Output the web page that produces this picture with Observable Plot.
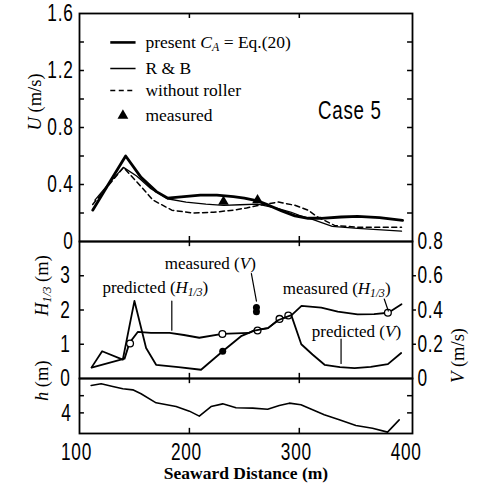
<!DOCTYPE html>
<html>
<head>
<meta charset="utf-8">
<script src="https://cdn.jsdelivr.net/npm/d3@7"></script>
<script src="https://cdn.jsdelivr.net/npm/@observablehq/plot@0.6"></script>
<style>
  body { margin: 0; background: #fff; }
  #fig { position: relative; width: 481px; height: 495px; background: #fff; }
  #fig svg { position: absolute; left: 0; overflow: visible; }
</style>
</head>
<body>
<div id="fig"></div>
<script>
// ---- Shared horizontal axis: seaward distance (m) ----
const xDomain = [100, 403];
const xTicks = [100, 200, 300, 400];
const xInnerTicks = [200, 300];

// ---- Upper panel: mean current U (m/s) ----
const presentX = [112, 127, 142, 156, 170, 180, 195, 210, 225, 240, 250, 262, 272, 284, 296, 308, 320, 338, 353, 373, 394];
const presentU = [0.22, 0.41, 0.60, 0.45, 0.35, 0.305, 0.315, 0.325, 0.325, 0.315, 0.305, 0.285, 0.255, 0.215, 0.18, 0.163, 0.163, 0.172, 0.177, 0.168, 0.148];
const rbX = [114, 127, 140, 152, 165, 180, 197, 215, 231, 246, 262, 280, 292, 300, 312, 330, 353, 393];
const rbU = [0.29, 0.41, 0.52, 0.46, 0.37, 0.30, 0.277, 0.262, 0.254, 0.258, 0.262, 0.233, 0.207, 0.183, 0.155, 0.106, 0.092, 0.073];
const noRollerX = [112, 126, 140, 152, 167, 184, 203, 222, 240, 252, 264, 281, 296, 308, 317, 332, 353, 393];
const noRollerU = [0.26, 0.39, 0.52, 0.42, 0.29, 0.22, 0.20, 0.205, 0.22, 0.235, 0.255, 0.277, 0.254, 0.22, 0.17, 0.113, 0.10, 0.10];
const measuredUX = [231, 262];
const measuredU = [0.28, 0.29];
const uLabelTicks = [0, 0.4, 0.8, 1.2, 1.6];
const uMinorTicks = [0.2, 0.4, 0.6, 0.8, 1.0, 1.2, 1.4];

// legend rows (label, y position in U units)
const legendLabels = ["present CA = Eq.(20)", "R & B", "without roller", "measured"];
const legendRowsU = [1.397, 1.214, 1.06, 0.884];
const legendSampleX = [128, 151];
const legendTextX = 160;
const caseLabel = "Case 5";
const caseLabelPos = [346, 0.92];

// ---- Middle panel: wave height H1/3 (m) and longshore current V (m/s) ----
const hPredX = [111, 141, 145.5, 153, 165, 182, 195, 209, 230, 254, 259, 271.5, 281, 293, 302, 320, 335, 353, 368, 381, 393];
const hPred = [0.32, 0.58, 1.04, 1.36, 1.33, 1.33, 1.27, 1.19, 1.30, 1.33, 1.41, 1.47, 1.71, 1.85, 2.12, 2.07, 1.95, 1.87, 1.88, 1.92, 2.17];
const hMeasX = [146, 230, 262, 282, 290, 380.6];
const hMeas = [1.02, 1.30, 1.40, 1.74, 1.84, 1.92];
const vPredX = [111, 120.6, 139.4, 150, 160.6, 169.7, 190, 210.6, 230.3, 247, 259, 271.5, 280.6, 292.7, 301.8, 312, 323, 337, 350.3, 365, 380.6, 392.7];
const vPred = [0.065, 0.159, 0.11, 0.453, 0.178, 0.08, 0.066, 0.051, 0.159, 0.247, 0.28, 0.294, 0.34, 0.37, 0.20, 0.14, 0.08, 0.066, 0.061, 0.068, 0.084, 0.149];
const vMeasX = [230.3, 261, 261];
const vMeas = [0.159, 0.39, 0.415];
const hLabelTicks = [0, 1, 2, 3];
const hMinorTicks = [1, 2, 3];
const vLabelTicks = [0, 0.2, 0.4, 0.6, 0.8];
const vMinorTicks = [0.2, 0.4, 0.6];

// annotations (in x / H1/3 units)
const noteText = ["predicted (H1/3)", "measured (V)", "measured (H1/3)", "predicted (V)"];
const noteX = [169, 219, 334, 352];
const noteH = [2.65, 3.35, 2.62, 1.38];
const pointerX1 = [184, 256.4, 377.3, 338];
const pointerH1 = [2.26, 3.06, 2.32, 1.15];
const pointerX2 = [184, 261, 381, 338];
const pointerH2 = [1.41, 2.26, 1.97, 0.44];
const pointerHead = [0, 0, 4, 5];

// ---- Lower panel: water depth h (m) ----
const depthX = [110.6, 119.7, 130.3, 139.4, 148.5, 156, 169.7, 187.9, 200, 209, 219.7, 230.3, 242.4, 257.6, 271.2, 281.8, 290.9, 301.5, 312.1, 322.7, 336.4, 351.5, 366.6, 380.3, 390.9];
const depth = [0.81, 0.62, 0.93, 1.2, 1.32, 1.78, 2.83, 3.26, 3.8, 4.38, 3.26, 2.95, 3.41, 3.45, 3.57, 3.14, 2.87, 3.06, 3.64, 4.22, 4.81, 5.47, 5.78, 6.24, 4.81];
const depthLabelTicks = [4];
const depthMinorTicks = [2, 4];

// ---- layout & style ----
const W = 481, ML = 79, MR = 69;
const sans = '"Liberation Sans", Arial, sans-serif';
const serif = '"Liberation Serif", "Times New Roman", serif';
const narrowScale = 0.72; // horizontal squeeze giving the condensed numerals
const tickLenX = 4.5;     // inward tick length in metres along x
const fmt1 = d => d === 0 ? "0" : d.toFixed(1);

const baseStyle = {fontFamily: sans, fontSize: "24px", background: "transparent", color: "black", overflow: "visible"};

// rich text: italics and subscripts for symbols
const rich = {
  "U (m/s)": [["U", {i: 1}], [" (m/s)"]],
  "H1/3 (m)": [["H", {i: 1}], ["1/3", {i: 1, sub: 1}], [" (m)"]],
  "h (m)": [["h", {i: 1}], [" (m)"]],
  "V (m/s)": [["V", {i: 1}], [" (m/s)"]],
  "present CA = Eq.(20)": [["present "], ["C", {i: 1}], ["A", {i: 1, sub: 1}], [" = Eq.(20)"]],
  "predicted (H1/3)": [["predicted ("], ["H", {i: 1}], ["1/3", {i: 1, sub: 1}], [")"]],
  "measured (H1/3)": [["measured ("], ["H", {i: 1}], ["1/3", {i: 1, sub: 1}], [")"]],
  "measured (V)": [["measured ("], ["V", {i: 1}], [")"]],
  "predicted (V)": [["predicted ("], ["V", {i: 1}], [")"]]
};
function finish(svg) {
  svg.querySelectorAll("text").forEach(t => {
    const parts = rich[t.textContent];
    if (parts) {
      t.textContent = "";
      for (const [s, f = {}] of parts) {
        const ts = document.createElementNS("http://www.w3.org/2000/svg", "tspan");
        ts.textContent = s;
        if (f.i) ts.setAttribute("font-style", "italic");
        if (f.sub) { ts.setAttribute("font-size", "68%"); ts.setAttribute("baseline-shift", "-22%"); }
        t.appendChild(ts);
      }
    }
  });
  return svg;
}
// squeeze sans-serif numerals and labels horizontally (after the svg is in the DOM)
function condense(svg) {
  svg.querySelectorAll("text").forEach(t => {
    if (getComputedStyle(t).fontFamily.includes("Liberation Sans")) {
      const tr = t.getAttribute("transform") || "";
      t.setAttribute("transform", `${tr} scale(${narrowScale},1)`);
      t.style.letterSpacing = "1px";
    }
  });
}

const fig = document.getElementById("fig");
function place(svg, top) {
  finish(svg);
  svg.style.top = top + "px";
  fig.appendChild(svg);
  condense(svg);
}

// ---- upper panel ----
const upper = Plot.plot({
  width: W, height: 245, marginLeft: ML, marginRight: MR, marginTop: 13, marginBottom: 4,
  x: {domain: xDomain, axis: null},
  y: {domain: [0, 1.6]},
  style: baseStyle,
  marks: [
    Plot.axisY({ticks: uLabelTicks, tickSize: 0, tickPadding: 6, tickFormat: fmt1, label: null}),
    Plot.ruleY(uMinorTicks, {y: d => d, x1: xDomain[0], x2: xDomain[0] + tickLenX, strokeWidth: 1.5}),
    Plot.ruleY(uMinorTicks, {y: d => d, x1: xDomain[1] - tickLenX, x2: xDomain[1], strokeWidth: 1.5}),
    Plot.ruleX(xInnerTicks, {x: d => d, y1: 1.6, y2: 1.565, strokeWidth: 1.5}),
    Plot.ruleX(xInnerTicks, {x: d => d, y1: 0, y2: 0.035, strokeWidth: 1.5}),
    Plot.line(noRollerU, {x: noRollerX, y: noRollerU, stroke: "black", strokeWidth: 1.5, strokeDasharray: "5,3.5"}),
    Plot.line(rbU, {x: rbX, y: rbU, stroke: "black", strokeWidth: 1.3}),
    Plot.line(presentU, {x: presentX, y: presentU, stroke: "black", strokeWidth: 2.8, strokeLinejoin: "round"}),
    Plot.dot(measuredU, {x: measuredUX, y: measuredU, symbol: "triangle", r: 4, fill: "black", stroke: "none"}),
    // legend
    Plot.link([0], {x1: legendSampleX[0], x2: legendSampleX[1], y1: legendRowsU[0], y2: legendRowsU[0], strokeWidth: 2.6}),
    Plot.link([0], {x1: legendSampleX[0], x2: legendSampleX[1], y1: legendRowsU[1], y2: legendRowsU[1], strokeWidth: 1.5}),
    Plot.link([0], {x1: legendSampleX[0], x2: legendSampleX[1], y1: legendRowsU[2], y2: legendRowsU[2], strokeWidth: 1.4, strokeDasharray: "5,3.5"}),
    Plot.dot([0], {x: (legendSampleX[0] + legendSampleX[1]) / 2, y: legendRowsU[3], symbol: "triangle", r: 4, fill: "black", stroke: "none"}),
    Plot.text(legendLabels, {x: legendTextX, y: legendRowsU, text: d => d, textAnchor: "start", fontFamily: serif, fontSize: 17.5}),
    Plot.text([caseLabel], {x: caseLabelPos[0], y: caseLabelPos[1], text: d => d, fontSize: 26}),
    Plot.text(["U (m/s)"], {frameAnchor: "left", dx: -44, dy: 3, rotate: -90, text: d => d, fontFamily: serif, fontSize: 18.5}),
    Plot.frame({strokeWidth: 1.8})
  ]
});
place(upper, 0);

// ---- middle panel, wave height (left axis) ----
const middle = Plot.plot({
  width: W, height: 137, marginLeft: ML, marginRight: MR, marginTop: 0, marginBottom: 0,
  x: {domain: xDomain, axis: null},
  y: {domain: [0, 4]},
  style: baseStyle,
  marks: [
    Plot.axisY({ticks: hLabelTicks, tickSize: 0, tickPadding: 9, tickFormat: d => String(d), label: null}),
    Plot.ruleY(hMinorTicks, {y: d => d, x1: xDomain[0], x2: xDomain[0] + tickLenX, strokeWidth: 1.5}),
    Plot.ruleX(xInnerTicks, {x: d => d, y1: 4, y2: 3.85, strokeWidth: 1.5}),
    Plot.ruleX(xInnerTicks, {x: d => d, y1: 0, y2: 0.15, strokeWidth: 1.5}),
    Plot.line(hPred, {x: hPredX, y: hPred, stroke: "black", strokeWidth: 1.8}),
    Plot.dot(hMeas, {x: hMeasX, y: hMeas, r: 3.4, fill: "white", stroke: "black", strokeWidth: 1.3}),
    Plot.text(noteText, {x: noteX, y: noteH, text: d => d, fontFamily: serif, fontSize: 17}),
    Plot.arrow(pointerHead, {x1: pointerX1, y1: pointerH1, x2: pointerX2, y2: pointerH2, headLength: d => d, strokeWidth: 1.2, bend: 0}),
    Plot.text(["H1/3 (m)"], {frameAnchor: "left", dx: -37, dy: 6, rotate: -90, text: d => d, fontFamily: serif, fontSize: 18.5}),
    Plot.frame({strokeWidth: 1.8})
  ]
});
place(middle, 241);

// ---- middle panel, longshore current (right axis) ----
const middleV = Plot.plot({
  width: W, height: 137, marginLeft: ML, marginRight: MR, marginTop: 0, marginBottom: 0,
  x: {domain: xDomain, axis: null},
  y: {domain: [0, 0.8]},
  style: baseStyle,
  marks: [
    Plot.axisY({anchor: "right", ticks: vLabelTicks, tickSize: 0, tickPadding: 5, tickFormat: fmt1, label: null}),
    Plot.ruleY(vMinorTicks, {y: d => d, x1: xDomain[1], x2: xDomain[1] + 3.6, strokeWidth: 1.5}),
    Plot.line(vPred, {x: vPredX, y: vPred, stroke: "black", strokeWidth: 1.8}),
    Plot.dot(vMeas, {x: vMeasX, y: vMeas, r: 3.5, fill: "black"}),
    Plot.text(["V (m/s)"], {frameAnchor: "right", dx: 46, dy: 18, rotate: -90, text: d => d, fontFamily: serif, fontSize: 18.5})
  ]
});
place(middleV, 241);

// ---- lower panel: depth ----
const lower = Plot.plot({
  width: W, height: 117, marginLeft: ML, marginRight: MR, marginTop: 0, marginBottom: 62,
  x: {domain: xDomain},
  y: {domain: [0, 6.4], reverse: true},
  style: baseStyle,
  marks: [
    Plot.axisY({ticks: depthLabelTicks, tickSize: 0, tickPadding: 8, tickFormat: d => String(d), label: null}),
    Plot.axisX({ticks: xTicks, tickSize: 0, tickPadding: 9, dx: -3, label: null}),
    Plot.ruleY(depthMinorTicks, {y: d => d, x1: xDomain[0], x2: xDomain[0] + tickLenX, strokeWidth: 1.5}),
    Plot.ruleY(depthMinorTicks, {y: d => d, x1: xDomain[1] - tickLenX, x2: xDomain[1], strokeWidth: 1.5}),
    Plot.ruleX(xInnerTicks, {x: d => d, y1: 6.4, y2: 5.8, strokeWidth: 1.5}),
    Plot.ruleX(xInnerTicks, {x: d => d, y1: 0, y2: 0.6, strokeWidth: 1.5}),
    Plot.line(depth, {x: depthX, y: depth, stroke: "black", strokeWidth: 1.6}),
    Plot.text(["h (m)"], {frameAnchor: "left", dx: -37, dy: -5, rotate: -90, text: d => d, fontFamily: serif, fontSize: 18.5}),
    Plot.text(["Seaward Distance (m)"], {frameAnchor: "bottom", dy: 45, text: d => d, fontFamily: serif, fontWeight: "bold", fontSize: 17.5}),
    Plot.frame({strokeWidth: 1.8})
  ]
});
place(lower, 378);
</script>
</body>
</html>
